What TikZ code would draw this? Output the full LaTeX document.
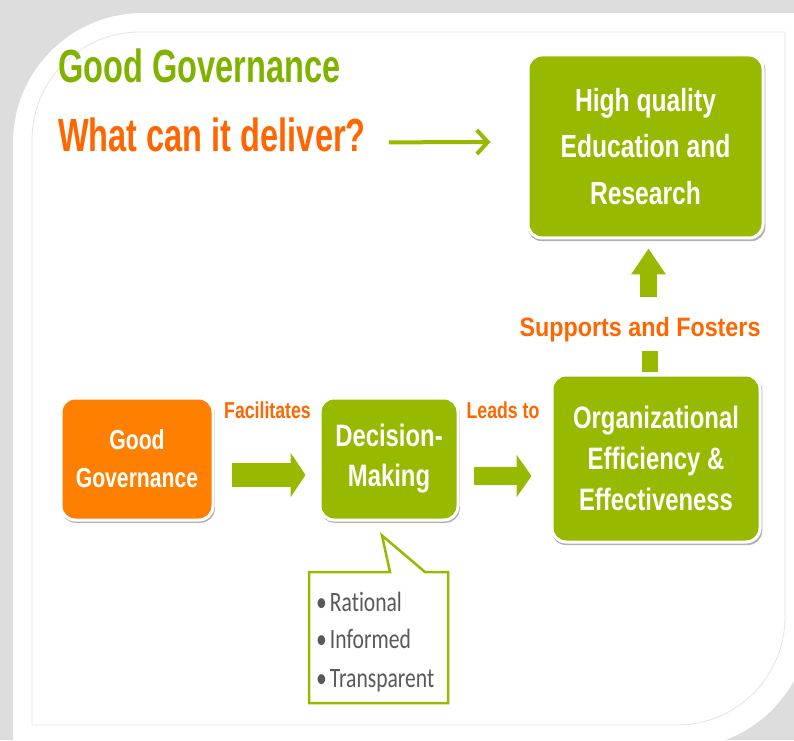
\documentclass[tikz,border=0pt]{standalone}
\usepackage{fontspec}
\setmainfont{Liberation Sans}
\newfontfamily\titlefont[FakeStretch=0.70]{Liberation Sans}
\newfontfamily\boxfont[FakeStretch=0.77]{Liberation Sans}
\newfontfamily\supfont[FakeStretch=0.88]{Liberation Sans}
\newfontfamily\calfont[FakeStretch=0.77,Ligatures=NoCommon]{Carlito}
\usetikzlibrary{arrows.meta,shadows}
\definecolor{boxgreen}{RGB}{151,185,0}
\definecolor{titlegreen}{RGB}{128,178,0}
\definecolor{boxorange}{RGB}{255,127,0}
\definecolor{txtorange}{RGB}{255,102,0}
\definecolor{framegray}{RGB}{221,221,221}
\definecolor{linegray}{RGB}{228,228,228}
\definecolor{calltext}{RGB}{89,89,89}
\begin{document}
\begin{tikzpicture}[x=1pt,y=1pt,
  box/.style={rounded corners=14pt, draw=white, line width=3pt, text=white,
    align=center, inner sep=0pt,
    drop shadow={shadow xshift=1pt, shadow yshift=-2pt, shadow scale=1.012, opacity=0.3, fill=black}},
  lbl/.style={text=txtorange, font=\boxfont\bfseries\fontsize{23}{27}\selectfont, inner sep=0pt},
  suplbl/.style={text=txtorange, font=\supfont\bfseries\fontsize{26.5}{30}\selectfont, inner sep=0pt},
  barrow/.style={draw=boxgreen, line cap=butt},
  larrow/.style={draw=boxgreen, line width=4pt, -{Straight Barb[length=11pt,width=24pt]}},
  calltxt/.style={text=calltext, font=\calfont\fontsize{28}{32}\selectfont, inner sep=0pt, anchor=base west},
  callbox/.style={draw=boxgreen, line width=2.5pt, fill=white, line join=miter}
]
\useasboundingbox (0,0) rectangle (794,740);
\clip (0,0) rectangle (794,740);
% frame
\fill[framegray] (0,0) rectangle (794,740);
\fill[white] (13,-10) -- (13,597) arc[start angle=180,end angle=90,radius=130]
  -- (810,727) -- (810,122) arc[start angle=0,end angle=-90,radius=130] -- cycle;
\draw[linegray, line width=0.8pt] (32,15) -- (32,600) arc[start angle=180,end angle=90,radius=108]
  -- (785,708) -- (785,123) arc[start angle=0,end angle=-90,radius=108] -- cycle;

% titles
\node[anchor=base west, inner sep=0pt, text=titlegreen, font=\titlefont\bfseries\fontsize{46.5}{50}\selectfont] (t1) at (58,657) {Good Governance};
\node[anchor=base west, inner sep=0pt, text=txtorange, font=\titlefont\bfseries\fontsize{46.5}{50}\selectfont] (q) at (58,588) {What can it deliver?};

% boxes
\node[box, fill=boxgreen, minimum width=235pt, minimum height=183pt,
  font=\boxfont\bfseries\fontsize{32}{46.5}\selectfont] (top) at (645.5,593.5) {High quality\\Education and\\Research};
\node[box, fill=boxorange, minimum width=152pt, minimum height=122pt,
  font=\boxfont\bfseries\fontsize{27.5}{38}\selectfont] (gg) at (137,281) {Good\\Governance};
\node[box, fill=boxgreen, minimum width=138pt, minimum height=122pt,
  font=\boxfont\bfseries\fontsize{31}{40}\selectfont] (dm) at (389,281) {Decision-\\Making};
\node[box, fill=boxgreen, minimum width=208pt, minimum height=167pt,
  font=\boxfont\bfseries\fontsize{31}{41}\selectfont] (org) at (656,281.5) {Organizational\\Efficiency \&\\Effectiveness};

% labels
\node[lbl] (fac) at (267.5,330) {Facilitates};
\node[lbl] (lead) at (503,330) {Leads to};
\node[suplbl, anchor=base] (sup) at (640,404) {Supports and Fosters};

% connectors
\draw[larrow] ([xshift=23pt,yshift=-7pt]q.east) -- ([xshift=-36pt,yshift=4.5pt]top.west);
\draw[barrow, line width=24pt, -{Triangle[length=15pt,width=44pt]}]
  ([xshift=17pt,yshift=-16pt]gg.east) -- ([xshift=-13pt,yshift=-16pt]dm.west);
\draw[barrow, line width=18pt, -{Triangle[length=15pt,width=42pt]}]
  ([xshift=14pt,yshift=-17pt]dm.east) -- ([xshift=-19pt,yshift=-17.5pt]org.west);
\draw[barrow, line width=16pt] ([xshift=-6.5pt,yshift=1.5pt]org.north) -- ([xshift=-6.5pt,yshift=23pt]org.north);
\draw[barrow, line width=17pt, -{Triangle[length=26pt,width=33pt]}]
  ([xshift=3pt,yshift=-57pt]top.south) -- ([xshift=3pt,yshift=-9pt]top.south);

% callout
\draw[callbox] (309,168) -- (390,168) -- ([xshift=-7pt,yshift=-14pt]dm.south) -- (425,168)
  -- (448,168) -- (448,37) -- (309,37) -- cycle;
\node[calltxt] (c1) at (316,129) {•\hspace{3pt}Rational};
\node[calltxt] (c2) at (316,92) {•\hspace{3pt}Informed};
\node[calltxt] (c3) at (316,53) {•\hspace{3pt}Transparent};
\end{tikzpicture}
\end{document}
